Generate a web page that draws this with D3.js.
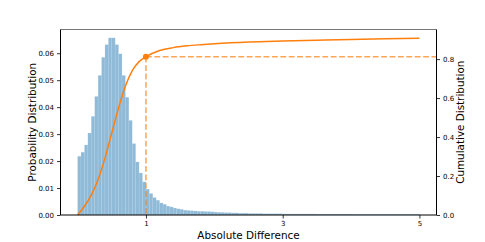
<!DOCTYPE html>
<html>
<head>
<meta charset="utf-8">
<script src="https://cdn.jsdelivr.net/npm/d3@7"></script>
<style>
  html, body { margin: 0; padding: 0; background: #fff; }
  svg { display: block; font-family: "DejaVu Sans", sans-serif; }
</style>
</head>
<body>
<svg id="chart" width="485" height="242"></svg>
<script>
// ---- data ----
const histRange = [0, 5];
const probability = [
  0.0218, 0.0233, 0.0260, 0.0304, 0.0366, 0.0440, 0.0518, 0.0585, 0.0632, 0.0657,
  0.0657, 0.0632, 0.0598, 0.0518, 0.0437, 0.0351, 0.0265, 0.0197, 0.0156, 0.0123,
  0.0096, 0.0080, 0.0065, 0.0055, 0.0045, 0.0040, 0.0033, 0.0030, 0.0026, 0.0023,
  0.0021, 0.0018, 0.0017, 0.0016, 0.0015, 0.0014, 0.0014, 0.0013, 0.0013, 0.0012,
  0.0011, 0.0010, 0.0010, 0.0009, 0.0009, 0.0008, 0.0008, 0.0007, 0.0007, 0.0007,
  0.0006, 0.0006, 0.0006, 0.0006, 0.0005, 0.0005, 0.0005, 0.0005, 0.0005, 0.0005,
  0.0004, 0.0004, 0.0004, 0.0004, 0.0004, 0.0004, 0.0004, 0.0004, 0.0004, 0.0004,
  0.00035, 0.00035, 0.00035, 0.00035, 0.00035, 0.00035, 0.00035, 0.00035, 0.00035, 0.00035,
  0.0003, 0.0003, 0.0003, 0.0003, 0.0003, 0.0003, 0.0003, 0.0003, 0.0003, 0.0003,
  0.0003, 0.0003, 0.0003, 0.0003, 0.0003, 0.0003, 0.0003, 0.0003, 0.0003, 0.0003
];
const cdfX = [0, 0.1, 0.2, 0.3, 0.4, 0.5, 0.6, 0.7, 0.8, 0.9, 1.0, 1.2, 1.4, 1.6, 1.8, 2.0, 2.5, 3.0, 3.5, 4.0, 4.5, 5.0];
const cdfY = [0, 0.045, 0.102, 0.182, 0.292, 0.421, 0.550, 0.662, 0.741, 0.787, 0.812, 0.844, 0.859, 0.868, 0.874, 0.879, 0.888, 0.893, 0.897, 0.901, 0.904, 0.907];
const markX = 1;
const markY = 0.812;
const xTicks = [1, 3, 5];
const yLeftTicks = [0, 0.01, 0.02, 0.03, 0.04, 0.05, 0.06];
const yRightTicks = [0, 0.2, 0.4, 0.6, 0.8];
const xLabel = "Absolute Difference";
const yLeftLabel = "Probability Distribution";
const yRightLabel = "Cumulative Distribution";

// ---- layout ----
const L = 60.5, R = 436.5, T = 29.5, B = 215;
const svg = d3.select("#chart");

const x = d3.scaleLinear().domain([-0.25, 5.25]).range([L, R]);
const yL = d3.scaleLinear().domain([0, 0.0688]).range([B, T]);
const yR = d3.scaleLinear().domain([0, 0.952]).range([B, T]);

const nBins = probability.length;
const bw = (histRange[1] - histRange[0]) / nBins;
const bins = probability.map((p, i) => ({ x0: histRange[0] + i * bw, x1: histRange[0] + (i + 1) * bw, p }));

// bars
svg.append("g").selectAll("rect").data(bins).join("rect")
  .attr("x", d => x(d.x0))
  .attr("width", d => x(d.x1) - x(d.x0))
  .attr("y", d => yL(d.p))
  .attr("height", d => B - yL(d.p))
  .attr("fill", "#1f77b4").attr("fill-opacity", 0.5)
  .attr("stroke", "#ffffff").attr("stroke-opacity", 0.22).attr("stroke-width", 0.5);

// cdf line
const cdfPts = cdfX.map((v, i) => [v, cdfY[i]]);
svg.append("path").datum(cdfPts)
  .attr("fill", "none").attr("stroke", "#ff7f0e").attr("stroke-width", 1.5)
  .attr("d", d3.line().x(d => x(d[0])).y(d => yR(d[1])).curve(d3.curveMonotoneX));

// dashed guides
svg.append("line")
  .attr("x1", x(markX)).attr("x2", x(markX))
  .attr("y1", yR(markY)).attr("y2", B)
  .attr("stroke", "#ff7f0e").attr("stroke-opacity", 0.7).attr("stroke-width", 1.5)
  .attr("stroke-dasharray", "5.8,2.6");
svg.append("line")
  .attr("x1", x(markX)).attr("x2", R)
  .attr("y1", yR(markY)).attr("y2", yR(markY))
  .attr("stroke", "#ff7f0e").attr("stroke-opacity", 0.7).attr("stroke-width", 1.5)
  .attr("stroke-dasharray", "5.8,2.6");
svg.append("circle")
  .attr("cx", x(markX)).attr("cy", yR(markY)).attr("r", 3)
  .attr("fill", "#ff7f0e");

// axes
const fs = 7;
const gx = svg.append("g").attr("transform", `translate(0,${B})`)
  .call(d3.axisBottom(x).tickValues(xTicks).tickFormat(d3.format("d")).tickSizeOuter(0).tickSize(3.5).tickPadding(2.5));
const gyl = svg.append("g").attr("transform", `translate(${L},0)`)
  .call(d3.axisLeft(yL).tickValues(yLeftTicks).tickFormat(d3.format(".2f")).tickSizeOuter(0).tickSize(3.5).tickPadding(3));
const gyr = svg.append("g").attr("transform", `translate(${R},0)`)
  .call(d3.axisRight(yR).tickValues(yRightTicks).tickFormat(d3.format(".1f")).tickSizeOuter(0).tickSize(3.5).tickPadding(3));
[gx, gyl, gyr].forEach(g => {
  g.selectAll("text").attr("font-size", fs).attr("font-family", "DejaVu Sans").attr("fill", "#000");
  g.selectAll(".tick line").attr("stroke", "#000").attr("stroke-width", 0.8);
  g.select(".domain").remove();
});

// spines
svg.append("line").attr("x1", L).attr("x2", R).attr("y1", T).attr("y2", T).attr("stroke", "#777").attr("stroke-width", 1);
svg.append("line").attr("x1", L).attr("x2", R).attr("y1", B).attr("y2", B).attr("stroke", "#000").attr("stroke-width", 1);
svg.append("line").attr("x1", L).attr("x2", L).attr("y1", T).attr("y2", B).attr("stroke", "#000").attr("stroke-width", 1);
svg.append("line").attr("x1", R).attr("x2", R).attr("y1", T).attr("y2", B).attr("stroke", "#000").attr("stroke-width", 1);

// axis labels
svg.append("text").attr("x", (L + R) / 2).attr("y", 238.5)
  .attr("text-anchor", "middle").attr("font-size", 10.4).text(xLabel);
svg.append("text").attr("transform", `translate(35.5,${(T + B) / 2}) rotate(-90)`)
  .attr("text-anchor", "middle").attr("font-size", 10.4).text(yLeftLabel);
svg.append("text").attr("transform", `translate(464,${(T + B) / 2}) rotate(-90)`)
  .attr("text-anchor", "middle").attr("font-size", 10.4).text(yRightLabel);
</script>
</body>
</html>
